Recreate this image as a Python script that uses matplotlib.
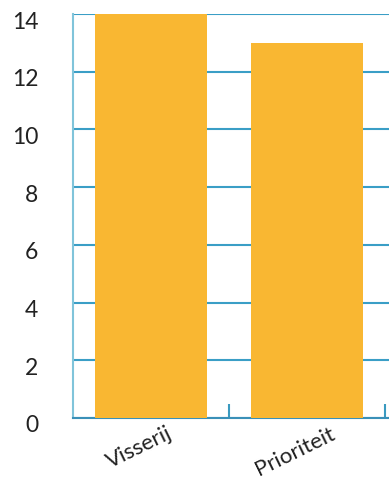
import numpy as np
import matplotlib
matplotlib.use('Agg')
import matplotlib.pyplot as plt
import matplotlib.transforms as mtransforms

categories = ['Visserij', 'Prioriteit']
values = [14, 13]
yticks = [0, 2, 4, 6, 8, 10, 12, 14]

plt.rcParams['font.family'] = ['Lato', 'DejaVu Sans']

fig = plt.figure(figsize=(3.89, 4.79), dpi=100)
ax = fig.add_axes([73/389, 61/479, 1 - 73/389, (418 - 14)/479])

x = np.arange(len(categories))
ax.bar(x, values, width=0.72, color='#F9B732', zorder=3)

ax.set_xlim(-0.5, -0.5 + 316/156)
ax.set_ylim(0, 14)
ax.set_yticks(yticks)
ax.set_yticklabels([str(t) for t in yticks], fontsize=16.5, color='#222222')
ax.tick_params(axis='y', length=0, pad=25)

ax.set_xticks(x)
ax.set_xticklabels(categories, fontsize=16, color='#222222', rotation=26,
                   ha='center')
ax.tick_params(axis='x', length=0, pad=4)
ax.set_xticks(x + 0.5, minor=True)
ax.tick_params(axis='x', which='minor', direction='in', length=10,
               width=1.5, color='#3A9AC0')

# nudge labels like the reference
shift_y = mtransforms.ScaledTranslation(0, -6/100, fig.dpi_scale_trans)
for lab in ax.get_yticklabels():
    lab.set_transform(lab.get_transform() + shift_y)
shift_x = mtransforms.ScaledTranslation(-12/100, 0, fig.dpi_scale_trans)
for lab in ax.get_xticklabels():
    lab.set_transform(lab.get_transform() + shift_x)

ax.yaxis.grid(True, color='#3A9EC6', linewidth=1.5, zorder=0)
ax.set_axisbelow(True)
for s in ['top', 'right']:
    ax.spines[s].set_visible(False)
ax.spines['left'].set_color('#80C4DA')
ax.spines['left'].set_linewidth(1.5)
ax.spines['bottom'].set_color('#3A90B8')
ax.spines['bottom'].set_linewidth(1.5)

fig.savefig('out.png', dpi=100)
